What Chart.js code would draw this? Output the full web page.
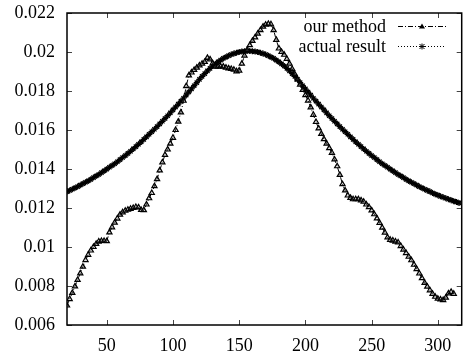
<!DOCTYPE html>
<html>
<head>
<meta charset="utf-8">
<script src="https://cdn.jsdelivr.net/npm/chart.js@4/dist/chart.umd.min.js"></script>
<style>
  html, body { margin: 0; padding: 0; background: #fff; }
  canvas { display: block; }
</style>
</head>
<body>
<canvas id="chart" width="467" height="356"></canvas>
<script>
// sample positions along the x axis
const xs = [
  20, 22, 24, 26, 28, 30, 32, 34, 36, 38, 40, 42, 44, 46, 48, 50, 52, 54, 56, 58,
  60, 62, 64, 66, 68, 70, 72, 74, 76, 78, 80, 82, 84, 86, 88, 90, 92, 94, 96, 98,
  100, 102, 104, 106, 108, 110, 112, 114, 116, 118, 120, 122, 124, 126, 128, 130, 132, 134, 136, 138,
  140, 142, 144, 146, 148, 150, 152, 154, 156, 158, 160, 162, 164, 166, 168, 170, 172, 174, 176, 178,
  180, 182, 184, 186, 188, 190, 192, 194, 196, 198, 200, 202, 204, 206, 208, 210, 212, 214, 216, 218,
  220, 222, 224, 226, 228, 230, 232, 234, 236, 238, 240, 242, 244, 246, 248, 250, 252, 254, 256, 258,
  260, 262, 264, 266, 268, 270, 272, 274, 276, 278, 280, 282, 284, 286, 288, 290, 292, 294, 296, 298,
  300, 302, 304, 306, 308, 310, 312, 314, 316
];

// "our method" (x = 20 .. 312)
const ourMethod = [
  0.00700, 0.00733, 0.00765, 0.00798, 0.00831, 0.00865, 0.00899, 0.00933, 0.00960, 0.00982,
  0.01000, 0.01016, 0.01028, 0.01031, 0.01031, 0.01030, 0.01075, 0.01101, 0.01125, 0.01146,
  0.01166, 0.01178, 0.01186, 0.01191, 0.01196, 0.01200, 0.01205, 0.01203, 0.01190, 0.01189,
  0.01218, 0.01250, 0.01277, 0.01312, 0.01348, 0.01393, 0.01434, 0.01472, 0.01500, 0.01530,
  0.01560, 0.01600, 0.01643, 0.01690, 0.01750, 0.01825, 0.01880, 0.01895, 0.01908, 0.01920,
  0.01931, 0.01940, 0.01949, 0.01970, 0.01962, 0.01942, 0.01925, 0.01925, 0.01926, 0.01925,
  0.01920, 0.01916, 0.01913, 0.01909, 0.01901, 0.01905, 0.01940, 0.01981, 0.02010, 0.02035,
  0.02057, 0.02075, 0.02094, 0.02112, 0.02130, 0.02140, 0.02144, 0.02142, 0.02112, 0.02062,
  0.02018, 0.02000, 0.01986, 0.01964, 0.01940, 0.01913, 0.01886, 0.01860, 0.01833, 0.01806,
  0.01779, 0.01751, 0.01716, 0.01678, 0.01641, 0.01608, 0.01580, 0.01553, 0.01530, 0.01507,
  0.01483, 0.01449, 0.01414, 0.01370, 0.01322, 0.01290, 0.01264, 0.01252, 0.01245, 0.01245,
  0.01245, 0.01239, 0.01232, 0.01218, 0.01205, 0.01188, 0.01168, 0.01147, 0.01123, 0.01099,
  0.01074, 0.01049, 0.01037, 0.01033, 0.01028, 0.01023, 0.01005, 0.00987, 0.00969, 0.00950,
  0.00932, 0.00909, 0.00887, 0.00864, 0.00840, 0.00816, 0.00797, 0.00778, 0.00760, 0.00745,
  0.00735, 0.00731, 0.00728, 0.00740, 0.00762, 0.00770, 0.00760
];

// "actual result" (x = 20 .. 316)
const actualResult = [
  0.01284, 0.01290, 0.01296, 0.01303, 0.01310, 0.01317, 0.01325, 0.01332, 0.01339, 0.01347,
  0.01356, 0.01364, 0.01372, 0.01381, 0.01390, 0.01399, 0.01409, 0.01418, 0.01427, 0.01437,
  0.01448, 0.01459, 0.01469, 0.01480, 0.01491, 0.01503, 0.01515, 0.01527, 0.01539, 0.01552,
  0.01565, 0.01578, 0.01591, 0.01604, 0.01617, 0.01631, 0.01645, 0.01659, 0.01673, 0.01688,
  0.01703, 0.01718, 0.01733, 0.01748, 0.01763, 0.01779, 0.01795, 0.01811, 0.01827, 0.01843,
  0.01860, 0.01875, 0.01889, 0.01903, 0.01916, 0.01928, 0.01939, 0.01949, 0.01958, 0.01967,
  0.01974, 0.01981, 0.01987, 0.01992, 0.01996, 0.02000, 0.02002, 0.02004, 0.02005,
  0.02005, 0.02004, 0.02002, 0.02000, 0.01996, 0.01992, 0.01987, 0.01981, 0.01974, 0.01967,
  0.01958, 0.01949, 0.01939, 0.01928, 0.01916, 0.01903, 0.01889, 0.01875, 0.01860, 0.01843,
  0.01827, 0.01811, 0.01795, 0.01779, 0.01763, 0.01748, 0.01733, 0.01718, 0.01703, 0.01688,
  0.01673, 0.01659, 0.01645, 0.01631, 0.01617, 0.01604, 0.01591, 0.01578, 0.01565, 0.01552,
  0.01539, 0.01527, 0.01515, 0.01503, 0.01491, 0.01480, 0.01469, 0.01459, 0.01448, 0.01437,
  0.01427, 0.01418, 0.01409, 0.01399, 0.01390, 0.01381, 0.01372, 0.01364, 0.01356, 0.01347,
  0.01339, 0.01332, 0.01325, 0.01317, 0.01310, 0.01303, 0.01296, 0.01290, 0.01284, 0.01277,
  0.01271, 0.01266, 0.01260, 0.01255, 0.01250, 0.01245, 0.01240, 0.01235, 0.01231, 0.01226
];

const seriesNames = ['our method', 'actual result'];
const xTickValues = [50, 100, 150, 200, 250, 300];
const yTickValues = [0.006, 0.008, 0.010, 0.012, 0.014, 0.016, 0.018, 0.020, 0.022];
const yTickLabels = ['0.006', '0.008', '0.01', '0.012', '0.014', '0.016', '0.018', '0.02', '0.022'];

const FONT = '"Liberation Serif", "Times New Roman", serif';
Chart.defaults.font.family = FONT;
Chart.defaults.font.size = 18;
Chart.defaults.color = '#000';

const toPoints = vals => vals.map((v, i) => ({ x: xs[i], y: v }));

// gnuplot style frame: box, inward ticks on all sides, key at top right
const gnuplotFrame = {
    id: 'gnuplotFrame',
    afterDraw(chart) {
        const { ctx, chartArea: a, scales: { x, y } } = chart;
        ctx.save();

        // tick marks
        ctx.strokeStyle = '#444';
        ctx.lineWidth = 1;
        ctx.beginPath();
        x.ticks.forEach(t => {
            const px = Math.round(x.getPixelForValue(t.value)) + 0.5;
            ctx.moveTo(px, a.bottom); ctx.lineTo(px, a.bottom - 5);
            ctx.moveTo(px, a.top); ctx.lineTo(px, a.top + 5);
        });
        y.ticks.forEach(t => {
            const py = Math.round(y.getPixelForValue(t.value)) + 0.5;
            ctx.moveTo(a.left, py); ctx.lineTo(a.left + 5, py);
            ctx.moveTo(a.right, py); ctx.lineTo(a.right - 5, py);
        });
        ctx.stroke();

        // frame
        ctx.strokeStyle = '#000';
        ctx.lineWidth = 1.5;
        ctx.strokeRect(a.left, a.top, a.right - a.left, a.bottom - a.top);

        // key
        const rows = [
            { name: seriesNames[0], y: 26, dash: [5, 2, 1, 2], mark: 'triangle' },
            { name: seriesNames[1], y: 46, dash: [1, 2], mark: 'star' }
        ];
        ctx.font = '18px ' + FONT;
        ctx.textAlign = 'right';
        ctx.textBaseline = 'middle';
        rows.forEach(r => {
            ctx.fillStyle = '#000';
            ctx.fillText(r.name, 386, r.y + 1);
            ctx.strokeStyle = '#000';
            ctx.lineWidth = 1;
            ctx.setLineDash(r.dash);
            ctx.beginPath();
            ctx.moveTo(398, r.y + 0.5);
            ctx.lineTo(446, r.y + 0.5);
            ctx.stroke();
            ctx.setLineDash([]);
            const cx = 422, cy = r.y + 0.5;
            ctx.beginPath();
            if (r.mark === 'triangle') {
                ctx.moveTo(cx, cy - 3);
                ctx.lineTo(cx + 3, cy + 2);
                ctx.lineTo(cx - 3, cy + 2);
                ctx.closePath();
                ctx.fill();
            } else {
                ctx.moveTo(cx - 3, cy); ctx.lineTo(cx + 3, cy);
                ctx.moveTo(cx, cy - 3); ctx.lineTo(cx, cy + 3);
                ctx.moveTo(cx - 2.5, cy - 2.5); ctx.lineTo(cx + 2.5, cy + 2.5);
                ctx.moveTo(cx - 2.5, cy + 2.5); ctx.lineTo(cx + 2.5, cy - 2.5);
                ctx.stroke();
            }
        });
        ctx.restore();
    }
};

new Chart(document.getElementById('chart'), {
    type: 'line',
    data: {
        datasets: [
            {
                label: seriesNames[0],
                data: toPoints(ourMethod),
                borderColor: '#000',
                borderWidth: 1,
                borderDash: [5, 2, 1, 2],
                pointStyle: 'triangle',
                pointRadius: 3,
                pointBorderWidth: 1.2,
                pointBorderColor: '#000',
                pointBackgroundColor: 'rgba(120,120,120,0.25)',
                tension: 0
            },
            {
                label: seriesNames[1],
                data: toPoints(actualResult),
                borderColor: '#000',
                borderWidth: 1,
                borderDash: [1, 2],
                pointStyle: 'star',
                pointRadius: 3,
                pointBorderWidth: 1.3,
                pointBorderColor: '#000',
                pointBackgroundColor: '#000',
                tension: 0
            }
        ]
    },
    options: {
        responsive: false,
        animation: false,
        devicePixelRatio: 1,
        layout: { padding: { top: 13, right: 2, left: 0, bottom: 0 } },
        plugins: {
            legend: { display: false },
            tooltip: { enabled: false }
        },
        scales: {
            x: {
                type: 'linear',
                min: 20,
                max: 318,
                grid: { display: false, drawTicks: false },
                border: { display: false },
                ticks: { padding: 10, callback: v => String(v) },
                afterBuildTicks: s => { s.ticks = xTickValues.map(v => ({ value: v })); },
                afterFit: s => { s.height = 31; s.paddingLeft = 0; s.paddingRight = 0; }
            },
            y: {
                type: 'linear',
                min: 0.006,
                max: 0.022,
                grid: { display: false, drawTicks: false },
                border: { display: false },
                ticks: { padding: 12, callback: (v, i) => yTickLabels[i] },
                afterBuildTicks: s => { s.ticks = yTickValues.map(v => ({ value: v })); },
                afterFit: s => { s.width = 67; s.paddingTop = 0; s.paddingBottom = 0; }
            }
        }
    },
    plugins: [gnuplotFrame]
});
</script>
</body>
</html>
